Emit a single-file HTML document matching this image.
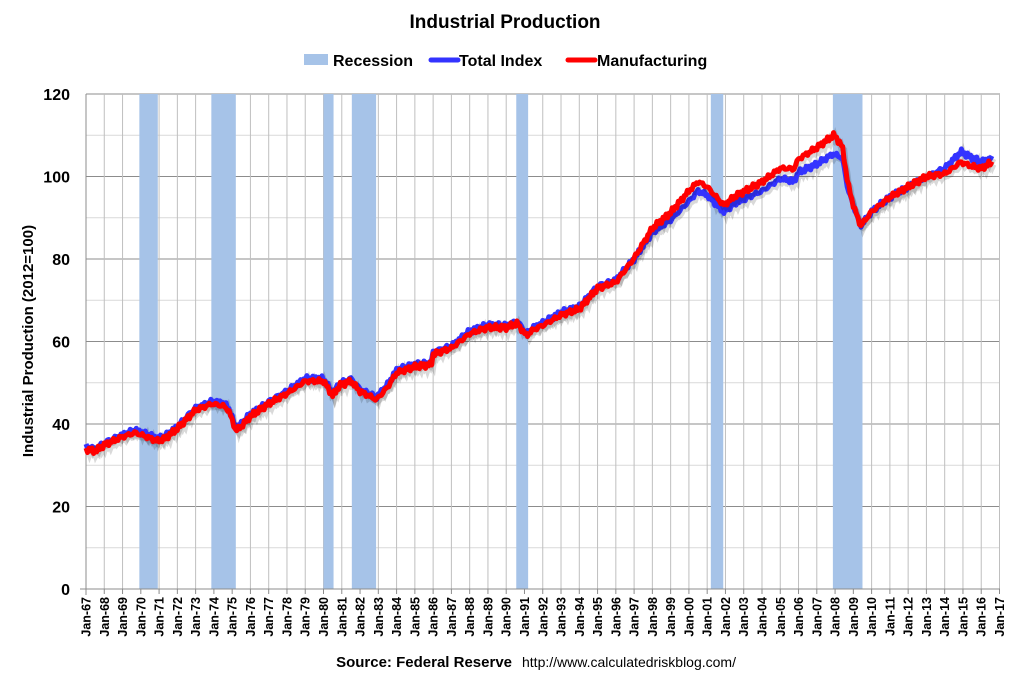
<!DOCTYPE html>
<html><head><meta charset="utf-8"><style>
body{margin:0;background:#fff;width:1011px;height:678px;overflow:hidden}
svg text{font-family:"Liberation Sans",Arial,sans-serif}
</style></head><body>
<svg id="s" width="1011" height="678" xmlns="http://www.w3.org/2000/svg">
<rect width="1011" height="678" fill="#fff"/>
<text x="505" y="28" text-anchor="middle" font-size="19" font-weight="bold">Industrial Production</text>
<rect x="304" y="54" width="24" height="11" fill="#a6c3e8"/>
<text x="333" y="66" font-size="16" font-weight="bold">Recession</text>
<line x1="431" y1="60" x2="458" y2="60" stroke="#3333ff" stroke-width="5" stroke-linecap="round"/>
<text x="459" y="66" font-size="16" font-weight="bold">Total Index</text>
<line x1="568" y1="60" x2="595" y2="60" stroke="#ff0000" stroke-width="5" stroke-linecap="round"/>
<text x="597" y="66" font-size="16" font-weight="bold">Manufacturing</text>
<g id="g"></g>
<text transform="translate(33,341) rotate(-90)" text-anchor="middle" font-size="15" font-weight="bold">Industrial Production (2012=100)</text>
<text x="512" y="667" text-anchor="end" font-size="15" font-weight="bold">Source: Federal Reserve</text>
<text x="522" y="667" font-size="14">http://www.calculatedriskblog.com/</text>
</svg>
<script>
var g=document.getElementById('g'),h='';
var X0=86,XW=18.27,Y0=589,YS=495/120;
function X(y){return X0+(y-1967)*XW}
function Y(v){return Y0-v*YS}
for(var v=0;v<=120;v+=10){var y=Y(v);h+='<line x1="'+X0+'" x2="1000" y1="'+y+'" y2="'+y+'" stroke="'+(v%20?'#d9d9d9':'#8c8c8c')+'" stroke-width="1"/>';}
for(var yr=1968;yr<=2017;yr++){var x=X(yr);h+='<line x1="'+x+'" x2="'+x+'" y1="94" y2="589" stroke="#bfbfbf"/>';}
[[1969.92,1970.93],[1973.86,1975.2],[1980.0,1980.55],[1981.55,1982.88],[1990.55,1991.2],[2001.2,2001.88],[2007.88,2009.5]].forEach(function(r){h+='<rect x="'+X(r[0])+'" y="94" width="'+(X(r[1])-X(r[0]))+'" height="495" fill="#a6c3e8"/>';});
for(var v=0;v<=120;v+=20){var y=Y(v);h+='<text x="70" y="'+(y+6)+'" text-anchor="end" font-size="16" font-weight="bold">'+v+'</text>';}
h+='<line x1="86" y1="94" x2="86" y2="595" stroke="#8c8c8c"/><line x1="80" y1="589" x2="1000" y2="589" stroke="#8c8c8c"/>';
for(var yr=1967;yr<=2017;yr++){var x=X(yr);h+='<line x1="'+x+'" x2="'+x+'" y1="589" y2="594" stroke="#8c8c8c"/>';
var lab='Jan-'+String(yr%100).padStart(2,'0');h+='<text transform="translate('+(x+4.5)+',597) rotate(-90)" text-anchor="end" font-size="12.5" font-weight="bold">'+lab+'</text>';}
var T=[[1967,34.5],[1967.5,34],[1968,35.5],[1969,37.5],[1969.7,38.5],[1970.9,36.5],[1971.3,37],[1972,39.5],[1973,44],[1973.9,45.5],[1974.5,45],[1974.8,44],[1975.2,39],[1975.5,40],[1976,42.5],[1977,45.5],[1978,48],[1979,51],[1980,51],[1980.5,47.5],[1980.9,50],[1981.5,51],[1982,48.5],[1982.9,46.5],[1983.5,49.5],[1984,53],[1985,54.5],[1985.9,55],[1986,57.5],[1987,59],[1988,62.5],[1989,64],[1990,64],[1990.6,65],[1991.1,62],[1991.5,63.5],[1992,64.5],[1993,67],[1994,68.5],[1995,73.5],[1996,75],[1997,80],[1998,86.5],[1999,89.5],[2000,94],[2000.5,96.5],[2001,95.5],[2001.9,91.5],[2002.5,93.5],[2003,94.5],[2004,96.5],[2005,99.5],[2005.6,99],[2005.7,98.5],[2006,101],[2007,103],[2007.9,105.5],[2008.4,104.5],[2008.7,97],[2009.0,93],[2009.4,88],[2010,91.5],[2011,95],[2012,97.5],[2013,100],[2014,102],[2014.9,106],[2015.5,104.5],[2016,103.5],[2016.6,104.5]];
var O=[[1967,-0.6],[1996,-0.6],[1998,1],[2000,2.5],[2002,1.5],[2005,2.5],[2007,4],[2008,4.5],[2009,0],[2013,0],[2014.5,-2],[2015,-2.5],[2016.6,-1]];
function interp(a,t){for(var i=1;i<a.length;i++)if(t<=a[i][0]){var p=a[i-1],q=a[i];return p[1]+(q[1]-p[1])*(t-p[0])/(q[0]-p[0]);}return a[a.length-1][1];}
function path(off,dx,dy){var s='';for(var t=1967;t<=2016.6;t+=1/12){var v=interp(T,t)+(off?interp(O,t):0)+0.45*Math.sin(t*37+(off?1:0))+0.3*Math.sin(t*91+(off?2:0));s+=(s?'L':'M')+(X(t)+dx).toFixed(1)+','+(Y(v)+dy).toFixed(1);}return s;}
h+='<path d="'+path(0,2,3)+'" fill="none" stroke="#000" stroke-opacity="0.15" stroke-width="5"/>';
h+='<path d="'+path(0,0,0)+'" fill="none" stroke="#3333ff" stroke-width="5" stroke-linejoin="round"/>';
h+='<path d="'+path(1,2,3)+'" fill="none" stroke="#000" stroke-opacity="0.15" stroke-width="5"/>';
h+='<path d="'+path(1,0,0)+'" fill="none" stroke="#ff0000" stroke-width="5" stroke-linejoin="round"/>';
g.innerHTML=h;
</script>
</body></html>
